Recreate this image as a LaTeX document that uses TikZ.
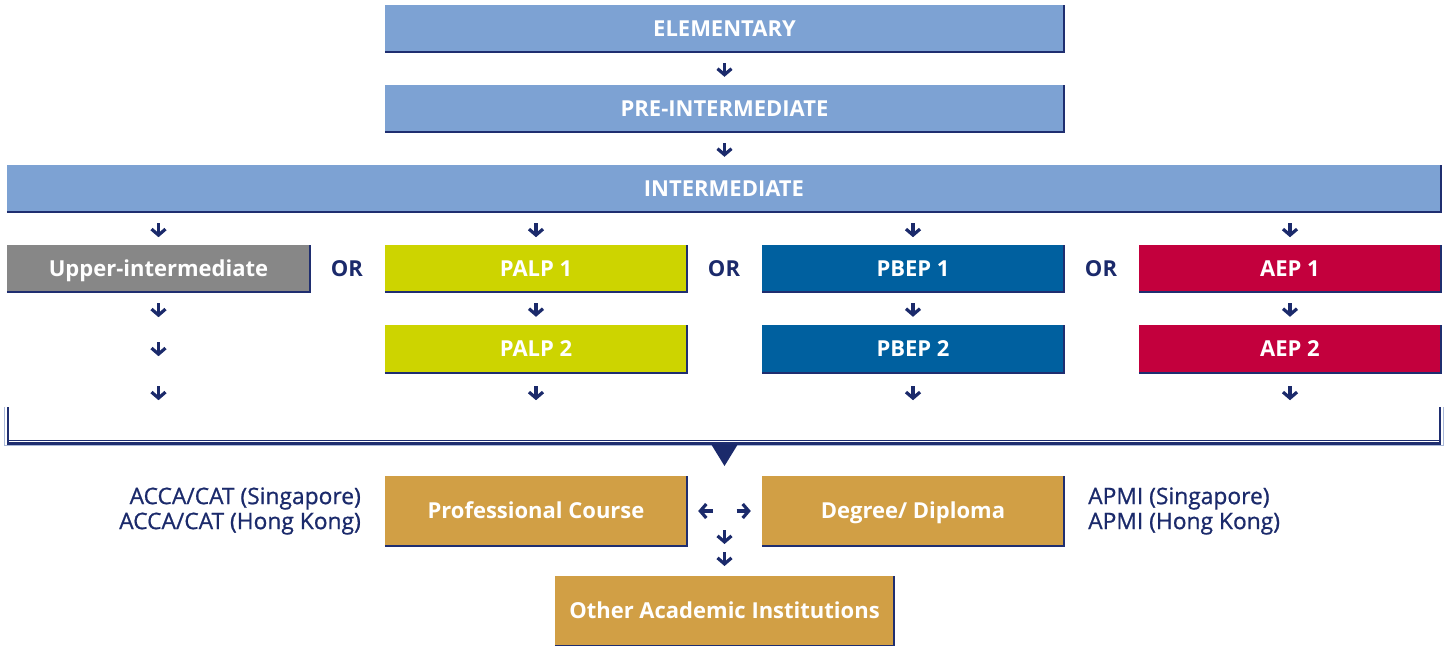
\documentclass[tikz,border=0pt]{standalone}
\usepackage{fontspec}
\setmainfont{Open Sans}
\newfontfamily\labfont[FakeBold=0.8]{Open Sans}
\usetikzlibrary{arrows.meta}
\definecolor{navy}{HTML}{1B2A6B}
\definecolor{edgeblue}{HTML}{1F2E70}
\definecolor{lblue}{HTML}{7DA2D3}
\definecolor{bgray}{HTML}{878787}
\definecolor{lime}{HTML}{CDD400}
\definecolor{mblue}{HTML}{00609F}
\definecolor{crimson}{HTML}{C3003D}
\definecolor{gold}{HTML}{D19F45}
\definecolor{paleline}{HTML}{A9B8D8}
\tikzset{
  box/.style={rectangle, inner sep=0pt, text=white,
    font=\bfseries\fontsize{22}{26}\selectfont, minimum height=47pt,
    text height=15.7pt, text depth=0pt},
  boxedge/.style={draw=edgeblue, line width=1.6pt},
  arr/.style={draw=navy, line width=3.2pt, -{Straight Barb[length=6pt,width=14pt]}},
  ortext/.style={text=navy, inner sep=0pt, font=\bfseries\fontsize{22}{26}\selectfont,
    text height=15.7pt, text depth=0pt},
  lab/.style={text=navy, inner sep=0pt, font=\labfont\fontsize{22.8}{25}\selectfont},
}
\begin{document}
\begin{tikzpicture}[x=1pt,y=-1pt]
\useasboundingbox (0,0) rectangle (1445,645);
% top levels
\node[box, fill=lblue, minimum width=679pt] (elem) at (724.5,28.5) {ELEMENTARY};
\node[box, fill=lblue, minimum width=679pt] (pre) at (724.5,108.5) {PRE-INTERMEDIATE};
\node[box, fill=lblue, minimum width=1434pt] (inter) at (724,188.5) {INTERMEDIATE};
% row 1
\node[box, fill=bgray, minimum width=303pt] (upper) at (158.5,268.5) {Upper-intermediate};
\node[box, fill=lime, minimum width=302pt] (palpa) at (536,268.5) {PALP 1};
\node[box, fill=mblue, minimum width=302pt] (pbepa) at (913,268.5) {PBEP 1};
\node[box, fill=crimson, minimum width=302pt] (aepa) at (1290,268.5) {AEP 1};
\node[ortext] (or1) at (347,269) {OR};
\node[ortext] (or2) at (724,269) {OR};
\node[ortext] (or3) at (1101,269) {OR};
% row 2
\node[box, fill=lime, minimum width=302pt, minimum height=48pt] (palpb) at (536,349) {PALP 2};
\node[box, fill=mblue, minimum width=302pt, minimum height=48pt] (pbepb) at (913,349) {PBEP 2};
\node[box, fill=crimson, minimum width=302pt, minimum height=48pt] (aepb) at (1290,349) {AEP 2};
% bottom
\node[box, fill=gold, minimum width=302pt, minimum height=70pt] (prof) at (536,511) {Professional Course};
\node[box, fill=gold, minimum width=302pt, minimum height=70pt] (deg) at (913,511) {Degree/ Diploma};
\node[box, fill=gold, minimum width=339pt, minimum height=70pt] (other) at (724.5,611) {Other Academic Institutions};
\node[lab, anchor=east, align=right] (acca) at (361,511) {ACCA/CAT (Singapore)\\ACCA/CAT (Hong Kong)};
\node[lab, anchor=west, align=left] (apmi) at (1088,511) {APMI (Singapore)\\APMI (Hong Kong)};
% box edges
\foreach \b in {elem,pre,inter,upper,palpa,pbepa,aepa,palpb,pbepb,aepb,prof,deg,other}
  \draw[boxedge] (\b.south west) -- (\b.south east) -- (\b.north east);
% arrows
\draw[arr, shorten <=11pt, shorten >=8pt] (elem) -- (pre);
\draw[arr, shorten <=11pt, shorten >=8pt] (pre) -- (pre |- inter.north);
\foreach \b in {upper,palpa,pbepa,aepa}
  \draw[arr] (inter.south -| \b) ++(0,11) -- ++(0,14);
\draw[arr, shorten <=11pt, shorten >=8pt] (palpa) -- (palpb);
\draw[arr, shorten <=11pt, shorten >=8pt] (pbepa) -- (pbepb);
\draw[arr, shorten <=11pt, shorten >=8pt] (aepa) -- (aepb);
\draw[arr] (upper.south) ++(0,11) -- ++(0,14);
\draw[arr] (upper.south) ++(0,50) -- ++(0,14);
\draw[arr] (upper.south) ++(0,94) -- ++(0,14);
\foreach \b in {palpb,pbepb,aepb}
  \draw[arr] (\b.south) ++(0,13) -- ++(0,14);
% bracket
\draw[paleline, line width=1pt] (4.5,407) -- (4.5,445.5) -- (1443.5,445.5) -- (1443.5,407);
\draw[edgeblue, line width=2.4pt] (8,407) -- (8,443.5) -- (1440,443.5) -- (1440,407);
\draw[edgeblue, line width=1pt] (8,440) -- (1440,440);
\fill[navy] (711,444) -- (738,444) -- (724.5,466) -- cycle;
% hub arrows
\coordinate (hub) at (724.5,511);
\draw[arr, shorten <=12pt, shorten >=11pt] (hub) -- (prof.east);
\draw[arr, shorten <=12pt, shorten >=11pt] (hub) -- (deg.west);
\draw[arr] (hub) ++(0,19) -- ++(0,14);
\draw[arr] (hub) ++(0,41) -- ++(0,14);
\end{tikzpicture}
\end{document}
